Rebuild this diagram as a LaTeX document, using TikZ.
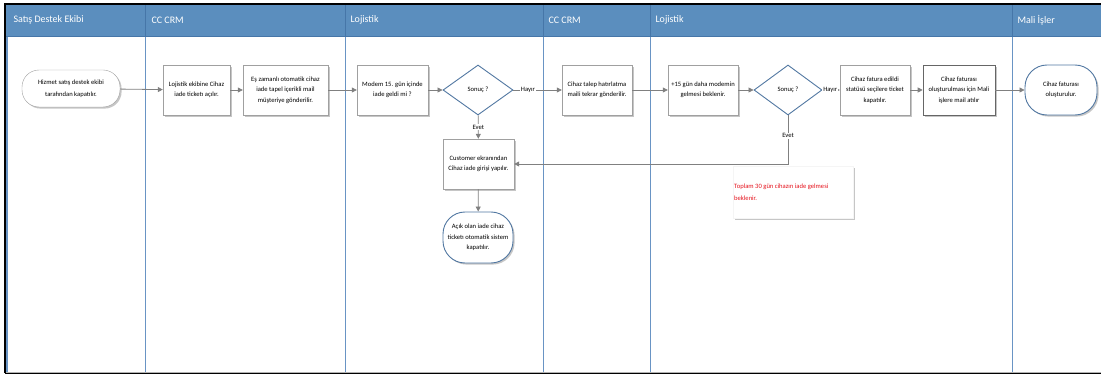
\documentclass[tikz,border=0pt]{standalone}
\usepackage{fontspec}
\setmainfont{Carlito}
\usetikzlibrary{shapes.geometric,shadows,arrows.meta}
\definecolor{hdr}{RGB}{91,142,190}
\definecolor{hdrline}{RGB}{70,118,168}
\definecolor{lane}{RGB}{105,148,196}
\definecolor{boxline}{RGB}{160,160,160}
\definecolor{blueline}{RGB}{82,120,162}
\definecolor{conn}{RGB}{128,128,128}
\definecolor{notered}{RGB}{230,20,30}
\tikzset{
  shad/.style={drop shadow={shadow xshift=1.6pt,shadow yshift=-1.6pt,opacity=0.45,fill=gray}},
  proc/.style={rectangle,draw=boxline,fill=white,shad,minimum width=70pt,minimum height=50pt,inner sep=1pt,align=center,font=\fontsize{6.6}{10.5}\selectfont},
  procdark/.style={proc,draw=black!60,line width=0.6pt},
  termgray/.style={rectangle,rounded corners=17pt,draw=boxline,fill=white,shad,minimum width=98pt,minimum height=37pt,inner sep=1pt,align=center,font=\fontsize{6.6}{12}\selectfont},
  termblue/.style={rectangle,rounded corners=22pt,draw=blueline,line width=0.9pt,fill=white,shad,minimum width=71pt,minimum height=50pt,inner sep=1pt,align=center,font=\fontsize{6.6}{10.5}\selectfont},
  decide/.style={diamond,draw=blueline,line width=0.9pt,fill=white,minimum width=70pt,minimum height=50pt,inner sep=0pt,font=\fontsize{6.6}{8}\selectfont},
  conn/.style={draw=conn,line width=0.8pt,-{Triangle[length=5pt,width=5pt]}},
  lbl/.style={fill=white,inner sep=1pt,font=\fontsize{6.6}{8}\selectfont},
  lanehead/.style={anchor=west,text=white,font=\fontsize{10}{12}\selectfont},
  note/.style={rectangle,fill=white,draw=black!4,shad,minimum width=120pt,minimum height=52pt},
}
\begin{document}
\begin{tikzpicture}[x=1pt,y=-1pt]
\useasboundingbox (0,0) rectangle (1101,377);
% header band
\fill[hdr] (5,5) rectangle (1101,37);
\draw[hdrline,line width=1pt] (5,37) -- (1101,37);
% lane dividers
\foreach \xx in {145,345,543,650,1012}{
  \draw[lane,line width=0.9pt] (\xx,5) -- (\xx,373);
  \draw[hdrline,line width=0.9pt] (\xx,5) -- (\xx,37);
}
\draw[lane,line width=1.6pt] (7,37) -- (7,372);
% frame
\draw[black,line width=1.8pt] (5,373) -- (5,4) -- (1101,4);
\draw[black,line width=1.8pt] (5,373.5) -- (1101,373.5);
\draw[gray!60,line width=0.6pt] (6,371.8) -- (1101,371.8);
% lane titles
\node[lanehead] (h1) at (10,20) {Satış Destek Ekibi};
\node[lanehead] (h2) at (148,20) {CC CRM};
\node[lanehead] (h3) at (347,20) {Lojistik};
\node[lanehead] (h4) at (545,20) {CC CRM};
\node[lanehead] (h5) at (652,20) {Lojistik};
\node[lanehead] (h6) at (1014,20) {Mali İşler};
% nodes
\node[termgray] (n1) at (71,88.5) {Hizmet satış destek ekibi\\tarafından kapatılır.};
\node[proc,minimum width=67pt] (n2) at (196.5,90) {Lojistik ekibine Cihaz\\iade ticketı açılır.};
\node[proc,minimum width=85pt] (n3) at (285.5,90) {Eş zamanlı otomatik cihaz\\iade tapel içerikli mail\\müşteriye gönderilir.};
\node[proc,minimum width=71pt] (n4) at (392.5,90) {Modem 15. gün içinde\\iade geldi mi ?};
\node[decide] (d1) at (478,90) {Sonuç ?};
\node[proc] (n6) at (597,90) {Cihaz talep hatırlatma\\maili tekrar gönderilir.};
\node[proc] (n7) at (703,90) {+15 gün daha modemin\\gelmesi beklenir.};
\node[decide,minimum width=68pt] (d2) at (788,90) {Sonuç ?};
\node[proc] (n9) at (875,90) {Cihaz fatura edildi\\statüsü seçilere ticket\\kapatılır.};
\node[procdark,minimum width=72pt] (n10) at (959,90) {Cihaz faturası\\oluşturulması için Mali\\işlere mail atılır};
\node[termblue,minimum width=72pt] (n11) at (1061,90) {Cihaz faturası\\oluşturulur.};
\node[proc,minimum width=71pt] (c) at (478.5,164) {Customer ekranından\\Cihaz iade girişi yapılır.};
\node[termblue,minimum width=70pt,minimum height=51pt] (t2) at (478,237.5) {Açık olan iade cihaz\\ticketı otomatik sistem\\kapatılır.};
\node[note] (nb) at (793,192) {};
\node[anchor=west,align=left,text=notered,inner sep=0pt,font=\fontsize{6.6}{12}\selectfont] (nt) at (734,192) {Toplam 30 gün cihazın iade gelmesi\\beklenir.};
% connectors
\draw[conn] (n1) -- (n2);
\draw[conn] (n2) -- (n3);
\draw[conn] (n3) -- (n4);
\draw[conn] (n4) -- (d1);
\draw[conn] (d1) -- node[lbl,pos=0.3] {Hayır} (n6);
\draw[conn] (n6) -- (n7);
\draw[conn] (n7) -- (d2);
\draw[conn] (d2) -- node[lbl,pos=0.45] {Hayır} (n9);
\draw[conn] (n9) -- (n10);
\draw[conn] (n10) -- (n11);
\draw[conn] (d1) -- node[lbl,pos=0.5] {Evet} (c);
\coordinate (k) at (d2.south |- c.east);
\draw[conn] (d2.south) -- node[lbl,pos=0.42] {Evet} (k) -- (c.east);
\draw[conn] (c) -- (t2);
\end{tikzpicture}
\end{document}
